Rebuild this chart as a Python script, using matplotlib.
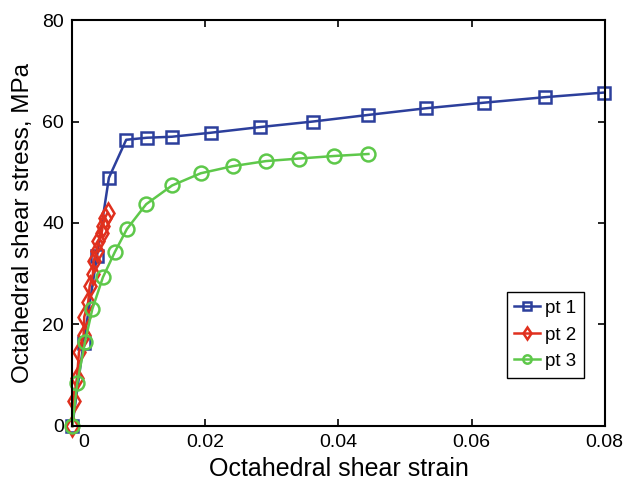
import matplotlib
matplotlib.use("Agg")
import matplotlib.pyplot as plt
import matplotlib.transforms as mtransforms

# données
strain_pt1 = [0, 0.0017, 0.0037, 0.0055, 0.0081, 0.0112, 0.0150, 0.0209, 0.0282,
              0.0362, 0.0445, 0.0531, 0.0618, 0.0711, 0.0799]
stress_pt1 = [0, 16.4, 33.4, 48.9, 56.4, 56.8, 57.0, 57.8, 58.9,
              60.0, 61.3, 62.6, 63.7, 64.8, 65.7]

strain_pt2 = [0, 0.0002, 0.0007, 0.0010, 0.0017, 0.0018, 0.0024, 0.0026, 0.0031,
              0.0032, 0.0037, 0.0039, 0.0044, 0.0046, 0.0049, 0.0053]
stress_pt2 = [0, 5.0, 9.5, 14.5, 18.0, 21.5, 24.5, 27.5, 30.0,
              32.5, 34.5, 36.5, 38.0, 39.5, 41.0, 42.0]

strain_pt3 = [0, 0.00075, 0.0019, 0.0030, 0.0046, 0.0064, 0.0082, 0.0111, 0.0150,
              0.0193, 0.0241, 0.0291, 0.0341, 0.0393, 0.0445]
stress_pt3 = [0, 8.5, 16.5, 23.0, 29.3, 34.3, 38.8, 43.7, 47.4,
              49.8, 51.2, 52.2, 52.7, 53.2, 53.6]

plt.rcParams['font.family'] = ['Liberation Sans', 'DejaVu Sans']

fig = plt.figure(figsize=(6.27, 4.82), dpi=100)
ax = fig.add_axes([0.1153, 0.1162, 0.8491, 0.8423])

style = dict(markerfacecolor='none', markeredgewidth=1.8, linewidth=1.8, clip_on=False)
ax.plot(strain_pt1, stress_pt1, color='#2c3f9c', marker='s', markersize=8.5,
        label='pt 1', **style)
ax.plot(strain_pt2, stress_pt2, color='#e0301e', marker='d', markersize=10,
        label='pt 2', **style)
ax.plot(strain_pt3, stress_pt3, color='#5ec84a', marker='o', markersize=10,
        label='pt 3', **style)

ax.set_xlim(0, 0.08)
ax.set_ylim(0, 80)
ax.set_xticks([0, 0.02, 0.04, 0.06, 0.08])
ax.set_xticklabels(['0', '0.02', '0.04', '0.06', '0.08'])
ax.set_yticks([0, 20, 40, 60, 80])
ax.tick_params(direction='in', top=True, right=True, length=5, width=1.2,
               labelsize=14, pad=6)
for s in ax.spines.values():
    s.set_linewidth(1.5)

ax.set_xlabel('Octahedral shear strain', fontsize=18, labelpad=4)
ax.set_ylabel('Octahedral shear stress, MPa', fontsize=17.5, labelpad=6)

# le "0" de l'axe x est décalé à droite sur l'original
lab0 = ax.get_xticklabels()[0]
lab0.set_transform(lab0.get_transform() +
                   mtransforms.ScaledTranslation(11 / 100, 0, fig.dpi_scale_trans))

leg = ax.legend(loc='upper left', bbox_to_anchor=(0.816, 0.329), fontsize=13.5,
                markerscale=0.6, handlelength=1.37, handletextpad=0.27,
                borderpad=0.4, borderaxespad=0, labelspacing=0.5,
                fancybox=False, framealpha=1)
leg.get_frame().set_edgecolor('black')
leg.get_frame().set_linewidth(1.0)

plt.savefig("out.png", dpi=100)
